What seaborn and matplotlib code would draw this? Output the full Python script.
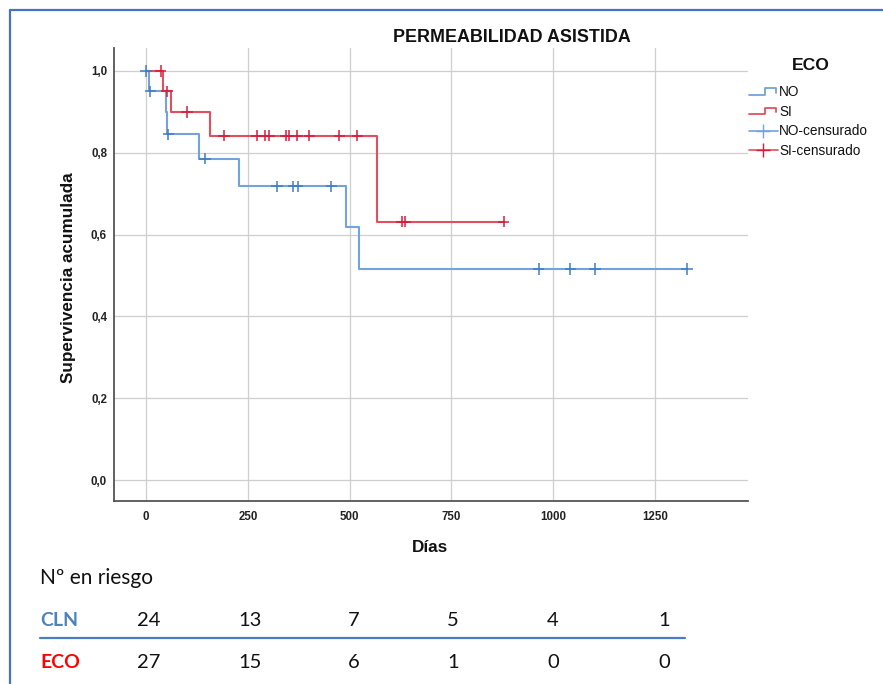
import numpy as np
import pandas as pd
import matplotlib
matplotlib.use("Agg")
import matplotlib.pyplot as plt
from matplotlib.lines import Line2D
from matplotlib.legend_handler import HandlerBase
import seaborn as sns

# Kaplan-Meier step curves (days, cumulative survival)
no_times = [0, 8, 48, 52, 130, 228, 491, 524, 1328]
no_surv = [1.0, 0.95, 0.90, 0.845, 0.786, 0.718, 0.618, 0.516, 0.516]
si_times = [0, 41, 61, 157, 568, 878]
si_surv = [1.0, 0.95, 0.899, 0.842, 0.632, 0.632]

# Censored observations (days)
no_censored = [0, 11, 55, 145, 321, 362, 372, 455, 964, 1042, 1103, 1328]
si_censored = [36, 51, 100, 192, 272, 291, 303, 344, 350, 370, 401, 475, 519, 628, 636, 878]

# Number-at-risk table
risk_groups = ["CLN", "ECO"]
risk_cln = [24, 13, 7, 5, 4, 1]
risk_eco = [27, 15, 6, 1, 0, 0]

x_ticks = [0, 250, 500, 750, 1000, 1250]
y_ticks = [0.0, 0.2, 0.4, 0.6, 0.8, 1.0]

sns.set_theme(style="white")
plt.rcParams["font.family"] = ["Liberation Sans", "DejaVu Sans"]

W, H = 883, 684
fig = plt.figure(figsize=(W / 100, H / 100), dpi=100)
ax = fig.add_axes([114 / W, 1 - 501 / H, (748 - 114) / W, (501 - 48) / H])

line_blue = "#74a2da"
line_red = "#e2505f"
mark_blue = "#3f7dc6"
mark_red = "#d81b3c"


def step_value(times, surv, t):
    idx = np.searchsorted(times, t, side="right") - 1
    return surv[max(idx, 0)]


curves = pd.concat([
    pd.DataFrame({"dias": no_times, "surv": no_surv, "ECO": "NO"}),
    pd.DataFrame({"dias": si_times, "surv": si_surv, "ECO": "SI"}),
])
sns.lineplot(data=curves, x="dias", y="surv", hue="ECO",
             palette={"NO": line_blue, "SI": line_red},
             drawstyle="steps-post", linewidth=1.5, legend=False,
             estimator=None, sort=False, ax=ax)

cens = pd.concat([
    pd.DataFrame({"dias": no_censored,
                  "surv": [step_value(no_times, no_surv, t) for t in no_censored],
                  "ECO": "NO"}),
    pd.DataFrame({"dias": si_censored,
                  "surv": [step_value(si_times, si_surv, t) for t in si_censored],
                  "ECO": "SI"}),
])
sns.scatterplot(data=cens, x="dias", y="surv", hue="ECO",
                palette={"NO": mark_blue, "SI": mark_red},
                marker="+", s=70, linewidth=1.1, legend=False, ax=ax, zorder=4)

ax.set_xlim(-78.6, 1478)
ax.set_ylim(-0.0513, 1.0562)
ax.set_xticks(x_ticks)
ax.set_yticks(y_ticks)
ax.set_xticklabels([str(v) for v in x_ticks])
ax.set_yticklabels([f"{v:.1f}".replace(".", ",") for v in y_ticks])
ax.tick_params(length=0, labelsize=8.3, colors="#222222")
ax.tick_params(axis="x", pad=7)
ax.tick_params(axis="y", pad=5)
for lab in ax.get_xticklabels() + ax.get_yticklabels():
    lab.set_fontweight("bold")
ax.grid(True, color="#cfcfcf", linewidth=0.9)
ax.set_axisbelow(True)
for side in ["top", "right"]:
    ax.spines[side].set_visible(False)
for side in ["left", "bottom"]:
    ax.spines[side].set_color("#555555")
    ax.spines[side].set_linewidth(1.3)
ax.set_xlabel("")
ax.set_ylabel("")

fig.text(512 / W, 1 - 37 / H, "PERMEABILIDAD ASISTIDA", ha="center", va="center",
         fontsize=12.9, fontweight="bold", color="#111111")
fig.text(68 / W, 1 - 278 / H, "Supervivencia acumulada", rotation=90,
         ha="center", va="center", fontsize=12.3, fontweight="bold", color="#111111")
fig.text(430 / W, 1 - 548 / H, "Días", ha="center", va="center",
         fontsize=12.3, fontweight="bold", color="#111111")


class StepHandler(HandlerBase):
    def create_artists(self, legend, orig_handle, xdescent, ydescent,
                       width, height, fontsize, trans):
        x0 = -xdescent
        lo = -ydescent + 0.15 * height
        hi = -ydescent + 0.85 * height
        xs = [x0, x0 + 0.55 * width, x0 + 0.55 * width, x0 + 0.95 * width, x0 + 0.95 * width]
        ys = [lo, lo, hi, hi, lo + 0.2 * height]
        ln = Line2D(xs, ys, color=orig_handle.get_color(), linewidth=1.3)
        ln.set_transform(trans)
        return [ln]


handles = [
    Line2D([], [], color=line_blue),
    Line2D([], [], color=line_red),
    Line2D([], [], color=line_blue, marker="+", markersize=10,
           markeredgecolor=line_blue, linewidth=1.2),
    Line2D([], [], color=line_red, marker="+", markersize=10,
           markeredgecolor=mark_red, linewidth=1.2),
]
labels = ["NO", "SI", "NO-censurado", "SI-censurado"]
fig.text(811 / W, 1 - 66 / H, "ECO", ha="center", va="center",
         fontsize=12.6, fontweight="bold", color="#111111")
leg = fig.legend(handles, labels, loc="upper left",
                 bbox_to_anchor=(749 / W, 1 - 85 / H), frameon=False,
                 fontsize=9.8, handlelength=2.1,
                 handletextpad=0.1, labelspacing=0.42, borderpad=0,
                 borderaxespad=0,
                 handler_map={handles[0]: StepHandler(), handles[1]: StepHandler()})
for t in leg.get_texts():
    t.set_color("#111111")

# Number-at-risk table
tbl_font = ["Lato", "DejaVu Sans"]
fig.text(40 / W, 1 - 578 / H, "Nº en riesgo", ha="left", va="center",
         fontsize=15, family=tbl_font, color="#111111")
col_x = [149, 250, 354, 453, 553, 664]
row_y = [620, 663]
row_colors = ["#4f81bd", "#ff0000"]
for grp, vals, yy, col in zip(risk_groups, [risk_cln, risk_eco], row_y, row_colors):
    fig.text(40 / W, 1 - yy / H, grp, ha="left", va="center", fontsize=14,
             fontweight="bold", family=tbl_font, color=col)
    for xx, v in zip(col_x, vals):
        fig.text(xx / W, 1 - yy / H, str(v), ha="center", va="center",
                 fontsize=14.5, family=tbl_font, color="#111111")
fig.add_artist(Line2D([40 / W, 685 / W], [1 - 638 / H, 1 - 638 / H],
                      color="#4a7ec4", linewidth=1.6))

# Slide frame
frame_col = "#4472c4"
fig.add_artist(Line2D([9.5 / W, 9.5 / W], [0, 1 - 9.5 / H], color=frame_col, linewidth=1.6))
fig.add_artist(Line2D([9.5 / W, 1], [1 - 9.5 / H, 1 - 9.5 / H], color=frame_col, linewidth=1.6))

fig.savefig("out.png", dpi=100, facecolor="white")
